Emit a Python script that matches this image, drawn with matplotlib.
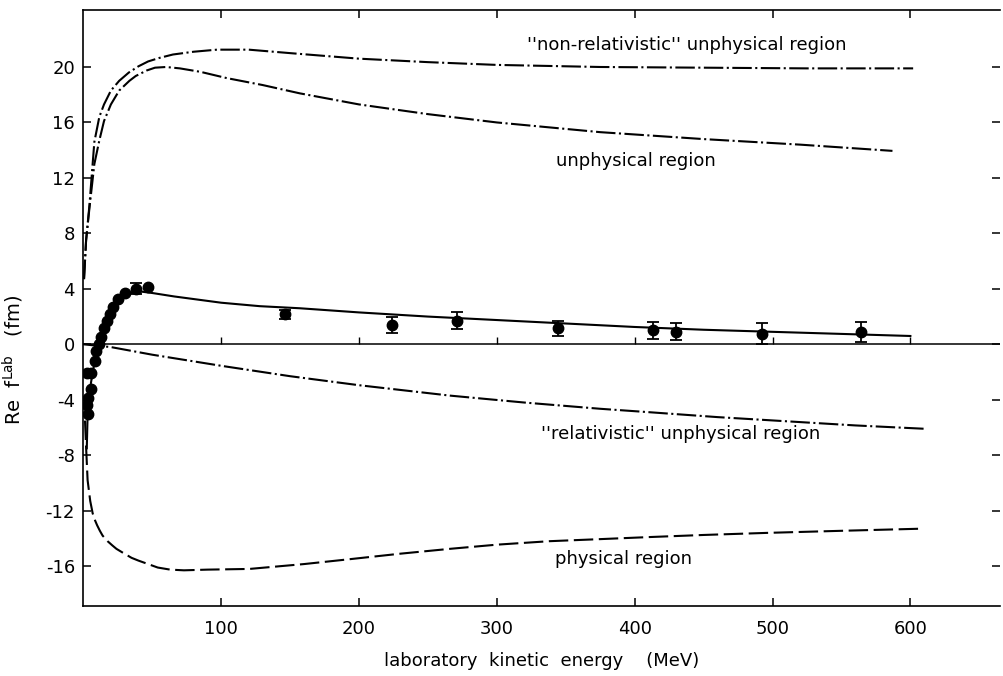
import numpy as np
import matplotlib
matplotlib.use("Agg")
import matplotlib.pyplot as plt

plt.rcParams['font.family'] = ['DejaVu Sans']
plt.rcParams['axes.unicode_minus'] = False
plt.rcParams['mathtext.default'] = 'regular'
plt.rcParams['lines.scale_dashes'] = False

# theory curves (energy in MeV, Re f in fm)
nonrel_x = [0.5, 2, 4.4, 8, 11.6, 15, 20, 26, 33, 40, 47, 55, 65, 80, 97, 120, 150,
            200, 250, 300, 375, 450, 525, 602]
nonrel_y = [4.7, 7.5, 10.0, 14.6, 16.4, 17.3, 18.3, 19.0, 19.6, 20.05, 20.4, 20.65,
            20.9, 21.1, 21.25, 21.25, 21.0, 20.6, 20.35, 20.15, 20.0, 19.95, 19.9, 19.9]

unphys_x = [0.5, 2, 4.4, 8, 11.6, 15, 20, 26, 33.4, 38, 46, 52, 60, 70, 85, 104, 130,
            157, 200, 250, 300, 375, 450, 520, 587]
unphys_y = [4.7, 7.5, 9.8, 13.0, 14.7, 16.1, 17.3, 18.3, 19.0, 19.35, 19.75, 19.95,
            20.0, 19.9, 19.65, 19.2, 18.7, 18.1, 17.3, 16.6, 16.0, 15.3, 14.8, 14.4, 13.95]

rel_x = [0, 20, 50, 100, 150, 200, 266, 320, 375, 411, 460, 510, 560, 612]
rel_y = [0.0, -0.2, -0.75, -1.55, -2.3, -2.95, -3.7, -4.2, -4.65, -4.9, -5.25,
         -5.55, -5.85, -6.1]

phys_x = [1.2, 2, 3.1, 5, 6.8, 8.5, 10, 12, 14, 17.6, 21, 24, 29.8, 35, 40, 47, 54,
          63, 73, 90, 120.5, 160, 193, 230, 266, 300, 338, 375, 411, 450, 496, 550, 607]
phys_y = [-5.5, -7.4, -9.8, -11.3, -12.2, -12.7, -13.05, -13.45, -13.8, -14.2, -14.5,
          -14.75, -15.1, -15.4, -15.6, -15.85, -16.1, -16.25, -16.3, -16.25, -16.2,
          -15.85, -15.5, -15.1, -14.75, -14.45, -14.2, -14.05, -13.9, -13.75, -13.6,
          -13.45, -13.3]

fit_x = [2.5, 3, 4, 5.5, 7, 9, 11, 13, 15, 18, 21, 25, 30, 36, 42, 50, 66, 100,
         128, 157, 200, 250, 300, 350, 400, 450, 500, 550, 600]
fit_y = [-7.5, -5.5, -4.0, -2.8, -1.9, -0.9, -0.1, 0.6, 1.2, 1.9, 2.5, 3.1, 3.5,
         3.75, 3.8, 3.7, 3.45, 3.0, 2.75, 2.6, 2.3, 2.0, 1.75, 1.5, 1.25, 1.05,
         0.9, 0.75, 0.6]

# measured points
data_x = [3.0, 5.5, 5.5, 3.5, 3.0, 3.5, 8.5, 9.5, 11.5, 13.0, 15.0, 17.5, 19.5,
          21.5, 25.0, 30.0, 38.0, 47.0, 146, 224, 271, 344, 413, 430, 492, 564]
data_y = [-2.1, -2.1, -3.2, -3.9, -4.4, -5.0, -1.2, -0.5, 0.05, 0.5, 1.15, 1.7,
          2.2, 2.7, 3.3, 3.7, 4.0, 4.1, 2.15, 1.4, 1.7, 1.15, 1.0, 0.92, 0.77, 0.87]
data_err = [0, 0, 0, 0, 0, 0, 0, 0, 0, 0, 0, 0, 0, 0, 0, 0, 0.4, 0, 0.3, 0.55,
            0.63, 0.55, 0.62, 0.62, 0.78, 0.72]

xticks = [100, 200, 300, 400, 500, 600]
yticks = [-16, -12, -8, -4, 0, 4, 8, 12, 16, 20]

fig = plt.figure(figsize=(10.04, 6.76), dpi=100)
ax = fig.add_axes([0.083, 0.103, 0.913, 0.882])

lw = 1.5
ax.axhline(0, color='black', lw=1.1)
ax.vlines(xticks, 0, 0.55, color='black', lw=1.0)

ax.plot(nonrel_x, nonrel_y, color='black', lw=lw, dashes=(14, 2.5, 1.5, 2.5))
ax.plot(unphys_x, unphys_y, color='black', lw=lw, dashes=(14, 2.5, 1.5, 2.5))
ax.plot(rel_x, rel_y, color='black', lw=lw, dashes=(14, 2.5, 1.5, 2.5))
ax.plot(phys_x, phys_y, color='black', lw=lw, dashes=(14, 4))
ax.plot(fit_x, fit_y, color='black', lw=lw)

dx = np.array(data_x)
dy = np.array(data_y)
de = np.array(data_err)
m = de > 0
ax.plot(dx[~m], dy[~m], 'o', color='black', ms=7.5)
ax.errorbar(dx[m], dy[m], yerr=de[m], fmt='o', color='black', ms=7.5,
            elinewidth=1.3, capsize=4, capthick=1.3)

fs = 13
ax.text(322, 21.6, "''non-relativistic'' unphysical region", fontsize=fs, va='center')
ax.text(343, 13.2, "unphysical region", fontsize=fs, va='center')
ax.text(332, -6.5, "''relativistic'' unphysical region", fontsize=fs, va='center')
ax.text(342, -15.5, "physical region", fontsize=fs, va='center')

ax.set_xlim(0, 665)
ax.set_ylim(-18.9, 24.1)
ax.set_xticks(xticks)
ax.set_yticks(yticks)
ax.tick_params(direction='in', length=6, width=1.1, labelsize=13,
               top=True, right=True)
ax.tick_params(axis='x', pad=10)
ax.tick_params(axis='y', pad=6)
ax.spines['right'].set_visible(False)
for s in ['left', 'top', 'bottom']:
    ax.spines[s].set_linewidth(1.2)

ax.set_xlabel("laboratory  kinetic  energy    (MeV)", fontsize=13, labelpad=10)
ax.set_ylabel(r"Re  f$^{Lab}$   (fm)", fontsize=14)
ax.yaxis.set_label_coords(-0.063, 0.413)

fig.savefig("out.png", dpi=100)
